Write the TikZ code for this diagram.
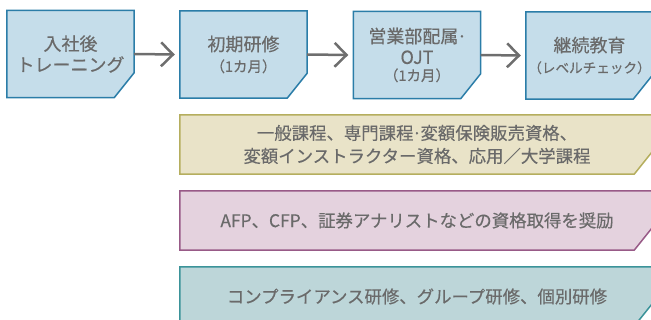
\documentclass[tikz,border=0pt]{standalone}
\usepackage{fontspec}
\setmainfont{Noto Sans CJK JP}[FakeBold=0.4]
\usetikzlibrary{arrows.meta,backgrounds}
\definecolor{boxfill}{HTML}{C5DDEA}
\definecolor{boxline}{HTML}{2B7DA8}
\definecolor{yfill}{HTML}{E9E3C8}
\definecolor{yline}{HTML}{B5AE5E}
\definecolor{pfill}{HTML}{E4D2DE}
\definecolor{pline}{HTML}{985A87}
\definecolor{gfill}{HTML}{BDD6D9}
\definecolor{gline}{HTML}{3B9399}
\definecolor{txt}{HTML}{6A6A6A}
\definecolor{conncol}{HTML}{6E6E6E}
\tikzset{
  stepbox/.style={minimum width=127pt, minimum height=87pt, inner sep=0pt, align=center, text=txt, font=\fontsize{18}{21}\selectfont},
  barbox/.style={minimum width=474pt, minimum height=59pt, inner sep=0pt, align=center, text=txt, font=\fontsize{17.4}{23}\selectfont},
  conn/.style={draw=conncol, line width=2.5pt, -{Straight Barb[length=12pt,width=24pt,line width=2.5pt]}}
}
\newcommand\smalltxt{\fontsize{14.5}{17}\selectfont}
\newcommand\smallertxt{\fontsize{13.6}{17}\selectfont}
\newcommand\tightdot{\kern-0.08em·\kern-0.08em}
\newcommand\cutbox[3]{%
  \begin{pgfonlayer}{background}
  \draw[fill=#2, draw=#3, line width=1.5pt, line join=miter]
    (#1.north west) -- (#1.north east) -- ([yshift=25pt]#1.south east)
    -- ([xshift=-20pt]#1.south east) -- (#1.south west) -- cycle;
  \end{pgfonlayer}}
\begin{document}
\begin{tikzpicture}[x=1pt,y=-1pt]
\useasboundingbox (0,0) rectangle (651,320);
\clip (0,0) rectangle (651,320);
\node[stepbox] (b1) at (70.5,54) {入社後\\トレーニング};
\node[stepbox] (b2) at (243.5,54.5) {初期研修\\{\smalltxt （1カ月）}};
\node[stepbox] (b3) at (417,55) {営業部配属\tightdot\\OJT\\[-4pt]{\smalltxt （1カ月）}};
\node[stepbox] (b4) at (589.5,55.5) {継続教育\\{\smallertxt （レベルチェック）}};
\cutbox{b1}{boxfill}{boxline}
\cutbox{b2}{boxfill}{boxline}
\cutbox{b3}{boxfill}{boxline}
\cutbox{b4}{boxfill}{boxline}
\draw[conn] (b1.east) -- ([xshift=-5pt]b2.west);
\draw[conn] (b2.east) -- ([xshift=-5pt]b3.west);
\draw[conn] (b3.east) -- ([xshift=-5pt]b4.west);
\node[barbox] (r1) at (417,144.5) {一般課程、専門課程\tightdot 変額保険販売資格、\\変額インストラクター資格、応用／大学課程};
\node[barbox] (r2) at (417,220.5) {AFP、CFP、証券アナリストなどの資格取得を奨励};
\node[barbox] (r3) at (417,296.5) {コンプライアンス研修、グループ研修、個別研修};
\cutbox{r1}{yfill}{yline}
\cutbox{r2}{pfill}{pline}
\cutbox{r3}{gfill}{gline}
\end{tikzpicture}
\end{document}
